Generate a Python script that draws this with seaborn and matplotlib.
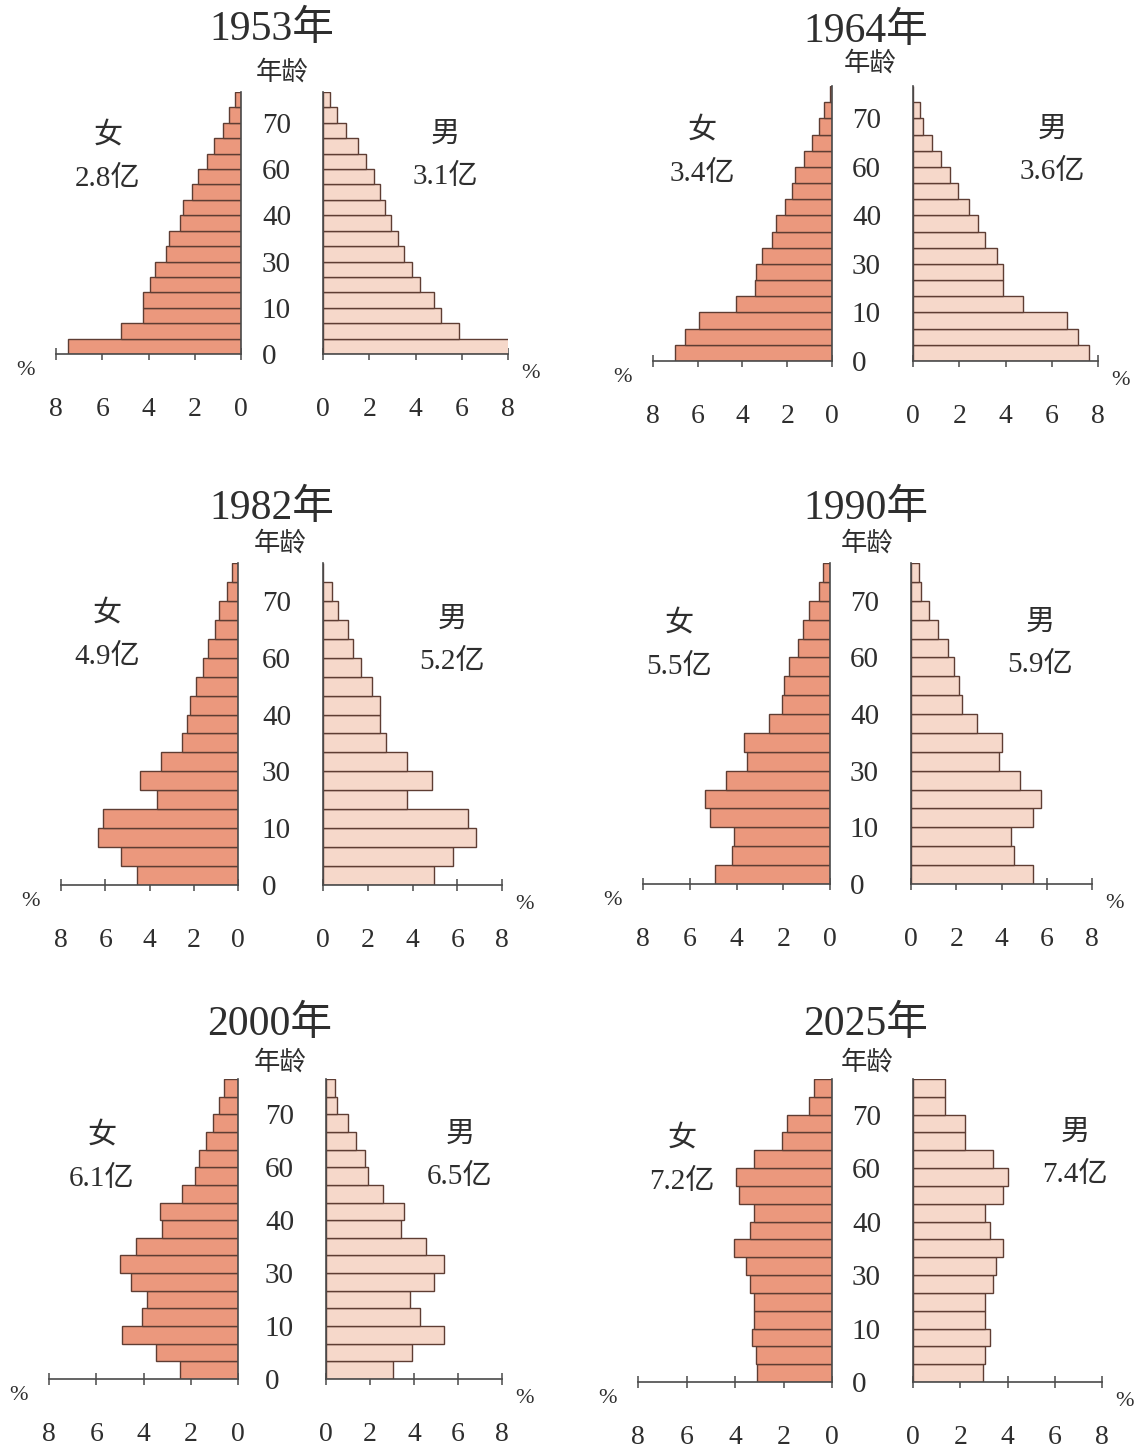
import pandas as pd
import seaborn as sns
import matplotlib.pyplot as plt

# ---- data (share of total population, %, youngest age group first) ----
years = ["1953年", "1964年", "1982年", "1990年", "2000年", "2025年"]
female_total = ["2.8亿", "3.4亿", "4.9亿", "5.5亿", "6.1亿", "7.2亿"]
male_total = ["3.1亿", "3.6亿", "5.2亿", "5.9亿", "6.5亿", "7.4亿"]
age_labels = ["0", "10", "30", "40", "60", "70"]
pct_ticks = [0, 2, 4, 6, 8]

female_1953 = [7.5, 5.2, 4.25, 4.25, 3.95, 3.7, 3.25, 3.1, 2.65, 2.5, 2.1, 1.85, 1.45, 1.15, 0.8, 0.5, 0.25]
male_1953 = [8.1, 5.9, 5.1, 4.8, 4.2, 3.85, 3.5, 3.25, 2.95, 2.7, 2.45, 2.2, 1.85, 1.5, 1.0, 0.6, 0.3]
female_1964 = [7.0, 6.55, 5.95, 4.3, 3.45, 3.4, 3.15, 2.7, 2.5, 2.1, 1.8, 1.65, 1.25, 0.9, 0.6, 0.35, 0.1]
male_1964 = [7.6, 7.15, 6.65, 4.75, 3.9, 3.9, 3.65, 3.1, 2.8, 2.4, 1.95, 1.6, 1.2, 0.8, 0.45, 0.3, 0.0]
female_1982 = [4.55, 5.3, 6.35, 6.1, 3.65, 4.45, 3.5, 2.55, 2.3, 2.15, 1.9, 1.6, 1.35, 1.05, 0.85, 0.5, 0.25]
male_1982 = [4.95, 5.8, 6.85, 6.5, 3.75, 4.85, 3.75, 2.8, 2.55, 2.55, 2.2, 1.7, 1.35, 1.1, 0.65, 0.4, 0.0]
female_1990 = [4.9, 4.2, 4.1, 5.15, 5.35, 4.45, 3.55, 3.7, 2.6, 2.05, 1.95, 1.75, 1.35, 1.15, 0.9, 0.45, 0.3]
male_1990 = [5.4, 4.55, 4.4, 5.4, 5.75, 4.8, 3.9, 4.0, 2.9, 2.25, 2.1, 1.9, 1.65, 1.2, 0.8, 0.45, 0.35]
female_2000 = [2.45, 3.45, 4.9, 4.05, 3.85, 4.55, 5.0, 4.3, 3.2, 3.3, 2.35, 1.8, 1.65, 1.35, 1.05, 0.8, 0.6]
male_2000 = [3.05, 3.9, 5.35, 4.25, 3.8, 4.9, 5.35, 4.55, 3.4, 3.55, 2.6, 1.9, 1.75, 1.35, 1.0, 0.5, 0.4]
female_2025 = [3.1, 3.15, 3.3, 3.2, 3.2, 3.4, 3.55, 4.05, 3.4, 3.2, 3.85, 3.95, 3.2, 2.05, 1.85, 0.95, 0.75]
male_2025 = [2.95, 3.05, 3.25, 3.05, 3.05, 3.4, 3.5, 3.8, 3.25, 3.05, 3.8, 4.0, 3.4, 2.2, 2.2, 1.35, 1.35]

female_data = [female_1953, female_1964, female_1982, female_1990, female_2000, female_2025]
male_data = [male_1953, male_1964, male_1982, male_1990, male_2000, male_2025]

# ---- layout (pixel positions in the 1147x1449 picture) ----
W, H = 1147, 1449
# f / m: left and right edge of the female / male axes, top / bot: bar area
panels = [
    dict(f=(56, 241), m=(323, 508), top=92, bot=354, title=(272, 30), age=(282, 72),
         fl=(108, 135), ml=(445, 135)),
    dict(f=(653, 832), m=(913, 1098), top=86, bot=361, title=(866, 32), age=(870, 63),
         fl=(702, 130), ml=(1052, 130)),
    dict(f=(61, 238), m=(323, 502), top=563, bot=885, title=(272, 509), age=(280, 543),
         fl=(107, 613), ml=(452, 620)),
    dict(f=(643, 830), m=(911, 1092), top=563, bot=884, title=(866, 509), age=(867, 543),
         fl=(679, 623), ml=(1040, 623)),
    dict(f=(49, 238), m=(326, 502), top=1079, bot=1379, title=(270, 1025), age=(280, 1062),
         fl=(102, 1135), ml=(460, 1135)),
    dict(f=(638, 832), m=(913, 1102), top=1079, bot=1382, title=(866, 1025), age=(867, 1062),
         fl=(682, 1138), ml=(1075, 1133)),
]

female_color = "#EB987D"
male_color = "#F6D8CA"
edge_color = "#5e3d33"
spine_color = "#4a4a4a"
text_color = "#2e2e2e"

sns.set_theme(style="white")
plt.rcParams["font.family"] = ["Liberation Serif", "Noto Sans CJK SC"]
plt.rcParams["text.color"] = text_color
plt.rcParams["xtick.color"] = spine_color
plt.rcParams["xtick.labelcolor"] = text_color
plt.rcParams["ytick.labelcolor"] = text_color


def rect(x0, x1, top, bot):
    return [x0 / W, 1 - bot / H, (x1 - x0) / W, (bot - top) / H]


def style_x(ax):
    ax.set_xticks(pct_ticks)
    ax.tick_params(axis="x", bottom=True, direction="inout", length=8, width=1.1,
                   labelsize=20, pad=27)
    ax.set_xlabel("")
    ax.set_ylabel("")
    ax.patch.set_alpha(0)


fig = plt.figure(figsize=(W / 100, H / 100), dpi=100)

n_groups = len(female_1953)
age_pos = [3 * k - 0.5 for k in range(len(age_labels))]

for p, year, fvals, mvals, ft, mt in zip(panels, years, female_data, male_data,
                                        female_total, male_total):
    # female side
    axf = fig.add_axes(rect(*p["f"], p["top"], p["bot"]))
    dff = pd.DataFrame({"pct": fvals, "grp": range(n_groups)})
    sns.barplot(data=dff, x="pct", y="grp", orient="h", native_scale=True, width=1,
                color=female_color, saturation=1, edgecolor=edge_color, linewidth=1,
                errorbar=None, ax=axf)
    axf.set_xlim(8, 0)
    axf.set_ylim(-0.5, n_groups - 0.5)
    axf.set_yticks([])
    style_x(axf)
    for s in ["top", "left"]:
        axf.spines[s].set_visible(False)
    for s in ["bottom", "right"]:
        axf.spines[s].set_color(spine_color)
        axf.spines[s].set_linewidth(1.2)
    axf.annotate("%", xy=(0, 0), xycoords="axes fraction", xytext=(-22, -12),
                 textcoords="offset points", ha="center", va="center", fontsize=16)

    # male side
    axm = fig.add_axes(rect(*p["m"], p["top"], p["bot"]))
    dfm = pd.DataFrame({"pct": mvals, "grp": range(n_groups)})
    sns.barplot(data=dfm, x="pct", y="grp", orient="h", native_scale=True, width=1,
                color=male_color, saturation=1, edgecolor=edge_color, linewidth=1,
                errorbar=None, ax=axm)
    axm.set_xlim(0, 8)
    axm.set_ylim(-0.5, n_groups - 0.5)
    style_x(axm)
    axm.set_yticks(age_pos)
    axm.set_yticklabels(age_labels, fontsize=21)
    axm.tick_params(axis="y", left=False, length=0, pad=44)
    for lab in axm.get_yticklabels():
        lab.set_horizontalalignment("left")
    for s in ["top", "right"]:
        axm.spines[s].set_visible(False)
    for s in ["bottom", "left"]:
        axm.spines[s].set_color(spine_color)
        axm.spines[s].set_linewidth(1.2)
    axm.annotate("%", xy=(1, 0), xycoords="axes fraction", xytext=(16, -14),
                 textcoords="offset points", ha="center", va="center", fontsize=16)

    # texts
    fig.text(p["title"][0] / W, 1 - p["title"][1] / H, year, ha="center", va="center",
             fontsize=30)
    fig.text(p["age"][0] / W, 1 - p["age"][1] / H, "年龄", ha="center", va="center",
             fontsize=19)
    fig.text(p["fl"][0] / W, 1 - p["fl"][1] / H, "女", ha="center", va="center", fontsize=21)
    fig.text(p["fl"][0] / W, 1 - (p["fl"][1] + 44) / H, ft, ha="center", va="center",
             fontsize=21)
    fig.text(p["ml"][0] / W, 1 - p["ml"][1] / H, "男", ha="center", va="center", fontsize=21)
    fig.text(p["ml"][0] / W, 1 - (p["ml"][1] + 42) / H, mt, ha="center", va="center",
             fontsize=21)

fig.savefig("out.png", dpi=100)
